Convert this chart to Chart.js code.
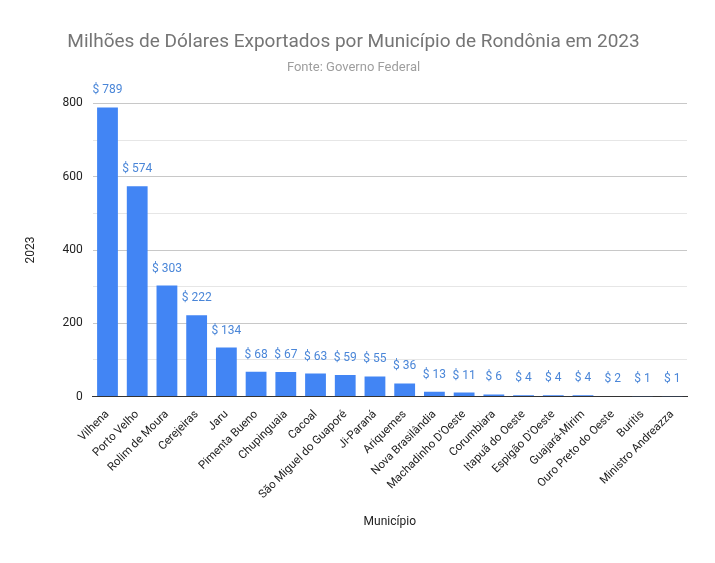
<!DOCTYPE html>
<html>
<head>
<meta charset="utf-8">
<script src="https://cdn.jsdelivr.net/npm/chart.js@4"></script>
<style>
  body { margin: 0; background: #fff; }
  #wrap { width: 715px; height: 563px; }
</style>
</head>
<body>
<div id="wrap"><canvas id="chart"></canvas></div>
<script>
// Municipalities and exported values (millions USD)
const municipios = ['Vilhena', 'Porto Velho', 'Rolim de Moura', 'Cerejeiras', 'Jaru', 'Pimenta Bueno',
  'Chupinguaia', 'Cacoal', 'São Miguel do Guaporé', 'Ji-Paraná', 'Ariquemes', 'Nova Brasilândia',
  'Machadinho D\'Oeste', 'Corumbiara', 'Itapuã do Oeste', 'Espigão D\'Oeste', 'Guajará-Mirim',
  'Ouro Preto do Oeste', 'Buritis', 'Ministro Andreazza'];
const valores2023 = [789, 574, 303, 222, 134, 68, 67, 63, 59, 55, 36, 13, 11, 6, 4, 4, 4, 2, 1, 1];
const yTicks = [0, 200, 400, 600, 800];

// Draws "$ value" labels above bars
const barLabels = {
  id: 'barLabels',
  afterDatasetsDraw(chart) {
    const ctx = chart.ctx;
    const meta = chart.getDatasetMeta(0);
    ctx.save();
    ctx.font = '12px Roboto';
    ctx.fillStyle = '#4a86d8';
    ctx.textAlign = 'center';
    ctx.textBaseline = 'bottom';
    meta.data.forEach((bar, i) => {
      ctx.fillText('$ ' + valores2023[i], bar.x, bar.y - 11);
    });
    ctx.restore();
  }
};

new Chart(document.getElementById('chart'), {
  type: 'bar',
  data: {
    labels: municipios,
    datasets: [{
      label: '2023',
      data: valores2023,
      backgroundColor: '#4285f4',
      barPercentage: 0.7,
      categoryPercentage: 1
    }]
  },
  options: {
    responsive: true,
    maintainAspectRatio: false,
    animation: false,
    layout: { padding: { left: 20, right: 28, top: 5, bottom: 30 } },
    plugins: {
      legend: { display: false },
      tooltip: { enabled: false },
      title: {
        display: true,
        text: 'Milhões de Dólares Exportados por Município de Rondônia em 2023',
        font: { family: 'Roboto', size: 19, weight: 'normal' },
        color: '#757575',
        padding: { top: 26, bottom: 6 }
      },
      subtitle: {
        display: true,
        text: 'Fonte: Governo Federal',
        font: { family: 'Roboto', size: 13 },
        color: '#9e9e9e',
        padding: { bottom: 28 }
      }
    },
    scales: {
      x: {
        grid: { display: false },
        border: { color: '#333' },
        ticks: {
          font: { family: 'Roboto', size: 11.5 },
          color: '#222',
          maxRotation: 45,
          minRotation: 45,
          autoSkip: false
        },
        title: {
          display: true,
          text: 'Município',
          font: { family: 'Roboto', size: 12 },
          color: '#222',
          padding: { top: 10 }
        }
      },
      y: {
        min: 0,
        max: 800,
        afterBuildTicks(axis) {
          const t = [];
          for (let v = 0; v <= 800; v += 100) t.push({ value: v });
          axis.ticks = t;
        },
        grid: {
          color: (c) => (c.tick && c.tick.value % 200 === 0) ? '#c8c8c8' : '#e6e6e6',
          drawTicks: false
        },
        border: { display: false },
        ticks: {
          padding: 10,
          font: { family: 'Roboto', size: 12 },
          color: '#222',
          callback: (v) => yTicks.includes(v) ? v : ''
        },
        title: {
          display: true,
          text: '2023',
          font: { family: 'Roboto', size: 12 },
          color: '#222',
          padding: { bottom: 14 }
        }
      }
    }
  },
  plugins: [barLabels]
});
</script>
</body>
</html>
